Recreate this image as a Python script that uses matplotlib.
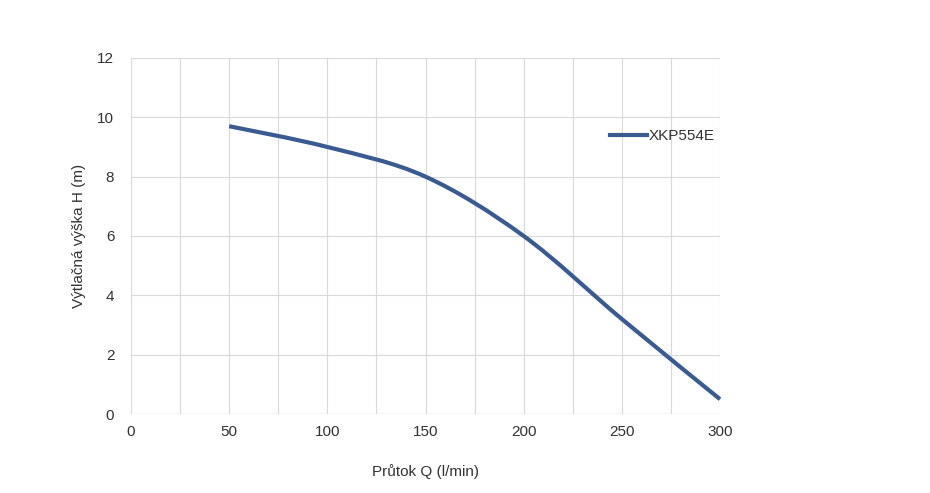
import matplotlib
matplotlib.use("Agg")
import matplotlib.pyplot as plt
from matplotlib.path import Path
from matplotlib.patches import PathPatch
from matplotlib.lines import Line2D

flow = [50, 100, 150, 200, 250, 300]
head = [9.7, 9.0, 8.0, 6.0, 3.2, 0.5]
series_name = "XKP554E"
xticks = [0, 50, 100, 150, 200, 250, 300]
yticks = [0, 2, 4, 6, 8, 10, 12]

plt.rcParams["font.family"] = "Liberation Sans"
fig = plt.figure(figsize=(9.3, 4.93), dpi=100)
ax = fig.add_axes([0.1409, 0.1602, 0.6333, 0.7222])
color = "#3A5A92"

# smooth curve (Catmull-Rom -> cubic Bezier), like Excel smoothed line
verts = [(flow[0], head[0])]
codes = [Path.MOVETO]
n = len(flow)
for i in range(n - 1):
    p0 = (flow[max(i - 1, 0)], head[max(i - 1, 0)])
    p1 = (flow[i], head[i])
    p2 = (flow[i + 1], head[i + 1])
    p3 = (flow[min(i + 2, n - 1)], head[min(i + 2, n - 1)])
    c1 = (p1[0] + (p2[0] - p0[0]) / 6, p1[1] + (p2[1] - p0[1]) / 6)
    c2 = (p2[0] - (p3[0] - p1[0]) / 6, p2[1] - (p3[1] - p1[1]) / 6)
    verts += [c1, c2, p2]
    codes += [Path.CURVE4] * 3
ax.add_patch(PathPatch(Path(verts, codes), fill=False, edgecolor=color,
                       lw=3, capstyle="butt", zorder=3, clip_on=False))

ax.set_xlim(0, 300)
ax.set_ylim(0, 12)
ax.set_xticks(xticks)
ax.set_yticks(yticks)
ax.set_xticks(range(25, 300, 50), minor=True)
ax.grid(True, which="both", color="#D9D9D9", lw=0.8)
ax.tick_params(which="both", length=0, labelsize=11, colors="#333333", pad=8)
ax.tick_params(axis="y", pad=12)
for s in ax.spines.values():
    s.set_visible(False)
ax.axhline(0, color="#BFBFBF", lw=0.8)
ax.set_xlabel("Průtok Q (l/min)", fontsize=11, color="#333333", labelpad=18)
ax.set_ylabel("Výtlačná výška H (m)", fontsize=11, color="#333333", labelpad=8)
ax.legend([Line2D([], [], color=color, lw=3)], [series_name], loc="center left",
          bbox_to_anchor=(0.79, 0.78), frameon=False, fontsize=11,
          handlelength=2.4, handletextpad=0.1, labelcolor="#333333")
fig.savefig("out.png", dpi=100)
